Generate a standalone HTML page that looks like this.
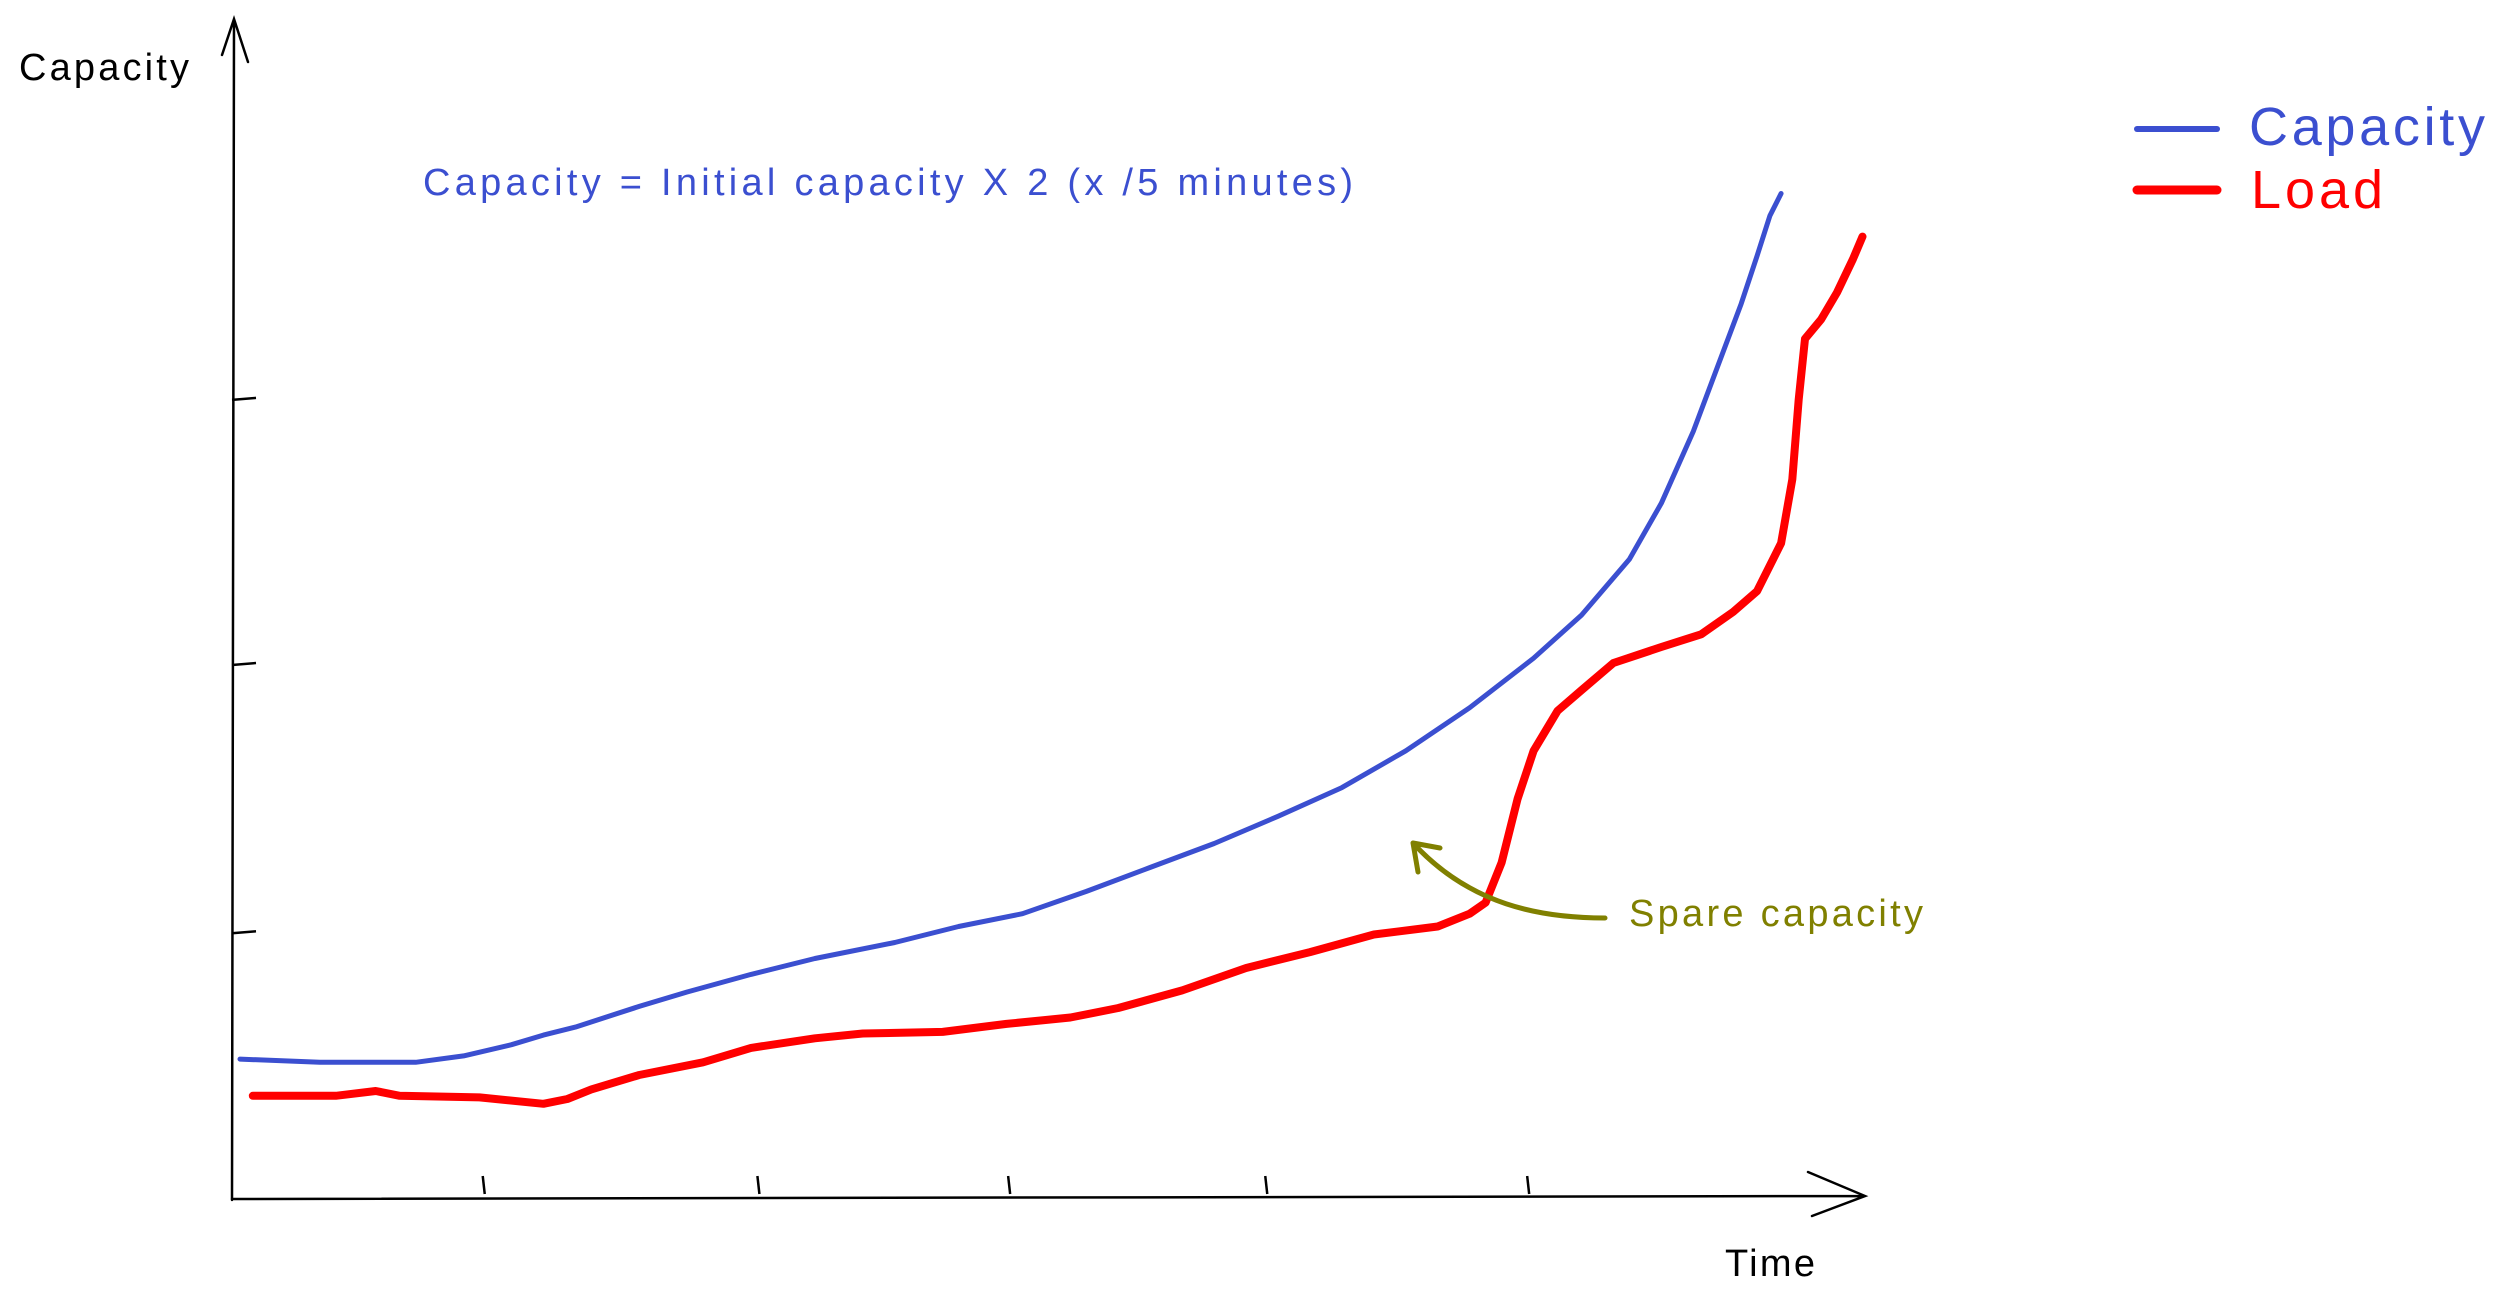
<!DOCTYPE html>
<html><head><meta charset="utf-8"><style>
html,body{margin:0;padding:0;background:#fff;}
svg{display:block;}
text{font-family:"Liberation Sans",sans-serif;}
</style></head><body>
<svg id="chart" width="2504" height="1307" viewBox="0 0 2504 1307" xmlns="http://www.w3.org/2000/svg">
<rect width="2504" height="1307" fill="#fff"/>
<g id="axes" stroke="#000" stroke-width="2.5" fill="none" stroke-linecap="round">
<path d="M232 1200 L234 19 M222 55 L234 19 L248 62"/>
<path d="M232 1199 L1863 1196 M1808 1172 L1865 1196 L1812 1216"/>
</g>
<g id="ticks" stroke="#000" stroke-width="2.5"></g>
<text x="19" y="80" font-size="38" fill="#000" textLength="170">Capacity</text>
<text x="1725" y="1276" font-size="38" fill="#000" textLength="90">Time</text>
<text x="423" y="195" font-size="38" fill="#3b4fd0" textLength="930">Capacity = Initial capacity X 2 (x /5 minutes)</text>
<g id="series"></g>
<path d="M1605 918 C1540 918 1470 905 1413 843 M1413 843 L1418 872 M1413 843 L1440 848" stroke="#808000" stroke-width="5" fill="none" stroke-linecap="round"/>
<text x="1629" y="926" font-size="38" fill="#808000" textLength="294">Spare capacity</text>
<g>
<line x1="2137" y1="129" x2="2217" y2="129" stroke="#3b4fd0" stroke-width="6" stroke-linecap="round"/>
<text x="2249" y="145" font-size="54" fill="#3b4fd0" textLength="236">Capacity</text>
<line x1="2137" y1="190" x2="2217" y2="190" stroke="#ff0000" stroke-width="9" stroke-linecap="round"/>
<text x="2251" y="208" font-size="54" fill="#ff0000" textLength="132">Load</text>
</g>
</svg>
<script>
const capTime=[5,55,115,145,175,195,215,255,285,325,365,415,455,495,535,575,615,655,695,735,775,815,845,875,895,915,930,945,955,963,970];
const capValue=[87,85,85,89,96,102,107,120,129,140,150,160,170,178,192,207,222,239,257,280,307,338,365,400,435,480,520,560,590,615,629];
const loadTime=[13,65,90,105,155,195,210,225,255,295,325,365,395,445,485,525,555,595,635,675,715,755,775,785,795,805,815,830,845,865,895,920,940,955,970,977,981,985,995,1005,1015,1021];
const loadValue=[64,64,67,64,63,59,62,68,77,85,94,100,103,104,109,113,119,130,144,154,165,170,178,185,210,250,280,305,318,335,345,353,367,380,410,450,500,538,550,567,588,602];
const xTicks=[157,329,486,647,811];
const yTicks=[167,335,501];
const xs=t=>232+t*1.597;
const ys=v=>1198-v*1.597;
const NS="http://www.w3.org/2000/svg";
function line(tArr,vArr,color,w,name){
  let d="";
  for(let i=0;i<tArr.length;i++){d+=(i?" L":"M")+xs(tArr[i]).toFixed(1)+" "+ys(vArr[i]).toFixed(1);}
  const p=document.createElementNS(NS,"path");
  p.setAttribute("d",d);p.setAttribute("stroke",color);p.setAttribute("stroke-width",w);
  p.setAttribute("fill","none");p.setAttribute("stroke-linecap","round");p.setAttribute("stroke-linejoin","round");
  
  
  document.getElementById("series").appendChild(p);
}
line(capTime,capValue,"#3b4fd0",5,"capacity-line");
line(loadTime,loadValue,"#ff0000",8,"load-line");
const tg=document.getElementById("ticks");
xTicks.forEach(t=>{const l=document.createElementNS(NS,"line");
  l.setAttribute("x1",xs(t));l.setAttribute("x2",xs(t)+2);l.setAttribute("y1",1176);l.setAttribute("y2",1194);
  
  
  tg.appendChild(l);});
yTicks.forEach(v=>{const l=document.createElementNS(NS,"line");
  l.setAttribute("x1",232);l.setAttribute("x2",256);l.setAttribute("y1",ys(v)+2);l.setAttribute("y2",ys(v));
  
  
  tg.appendChild(l);});
</script>
</body></html>
